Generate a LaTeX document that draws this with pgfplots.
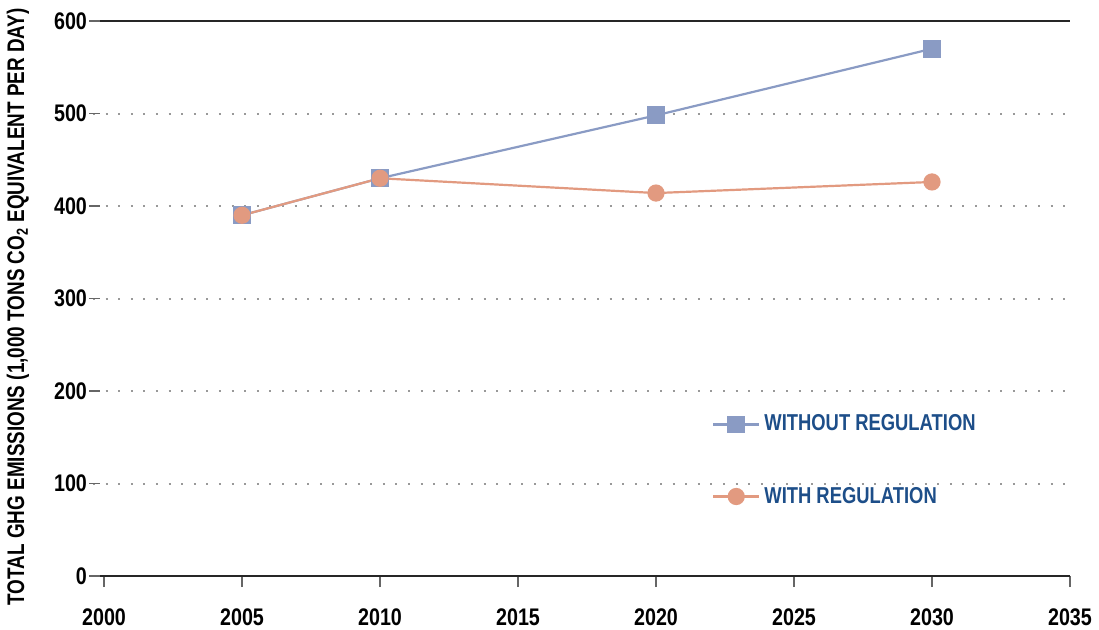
\documentclass[border=0pt]{standalone}
\usepackage{pgfplots}
\pgfplotsset{compat=1.18}
\usepackage{fontspec}
\setmainfont{Liberation Sans}[FakeStretch=0.85]
\newfontfamily\tickfont{Liberation Sans}[FakeStretch=0.82]
\newfontfamily\ylabfont{Liberation Sans}[FakeStretch=0.787]
\newfontfamily\legfont{Liberation Sans}[FakeStretch=0.80]
\definecolor{withoutc}{HTML}{8A9BC4}
\definecolor{withc}{HTML}{E29A80}
\definecolor{legc}{HTML}{1D4E89}
\definecolor{gridc}{HTML}{999999}
\begin{document}
\begin{tikzpicture}
\useasboundingbox (-46.5pt,-26.5pt) rectangle (503pt,288pt);
\begin{axis}[
  scale only axis, width=488.5pt, height=277.5pt,
  xmin=1999.6, xmax=2035, ymin=0, ymax=600,
  axis x line*=bottom, axis y line*=left,
  y axis line style={draw=none},
  x axis line style={draw=black!60, line width=0.6pt},
  xtick={2000,2005,...,2035},
  xticklabels={2000,2005,2010,2015,2020,2025,2030,2035},
  ytick={100,200,300,400,500},
  yticklabels={100,200,300,400,500},
  extra y ticks={0,600},
  extra y tick labels={0,600},
  extra y tick style={grid style={solid, draw=black!85, line width=0.6pt, dash pattern=}},
  ymajorgrids,
  grid style={draw=gridc, line width=1pt, dash pattern=on 1pt off 5.3pt},
  tick align=outside,
  major tick length=5.5pt,
  xtick style={draw=black!60, line width=0.6pt},
  ytick style={draw=black!60, line width=0.6pt, xshift=3.5pt},
  tick label style={font=\tickfont\bfseries\fontsize{12}{12}\selectfont},
  xticklabel style={yshift=-7.5pt},
  yticklabel style={xshift=6pt},
  ylabel={TOTAL GHG EMISSIONS (1,000 TONS CO\textsubscript{2} EQUIVALENT PER DAY)},
  ylabel style={at={(axis description cs:-0.0768,0.485)}, anchor=center, font=\ylabfont\bfseries\fontsize{12}{12}\selectfont},
  legend style={at={(axis cs:2021.8,124.9)}, anchor=west, draw=none, fill=none,
    font=\legfont\bfseries\fontsize{11.5}{11.5}\selectfont\color{legc}, row sep=22.5pt},
  legend cell align=left,
  legend image code/.code={\draw[mark repeat=2,mark phase=2,#1] plot coordinates {(0cm,0cm)(0.405cm,0cm)(0.81cm,0cm)};},
]
\addplot[color=withoutc, line width=1.1pt, mark=square*, mark size=3.9pt, mark options={fill=withoutc, draw=none}]
  coordinates {(2005,390) (2010,430) (2020,498) (2030,570)};
\addlegendentry{WITHOUT REGULATION}
\addplot[color=withc, line width=1.1pt, mark=*, mark size=3.75pt, mark options={fill=withc, draw=none}]
  coordinates {(2005,390) (2010,430) (2020,414) (2030,426)};
\addlegendentry{WITH REGULATION}
\end{axis}
\end{tikzpicture}
\end{document}
